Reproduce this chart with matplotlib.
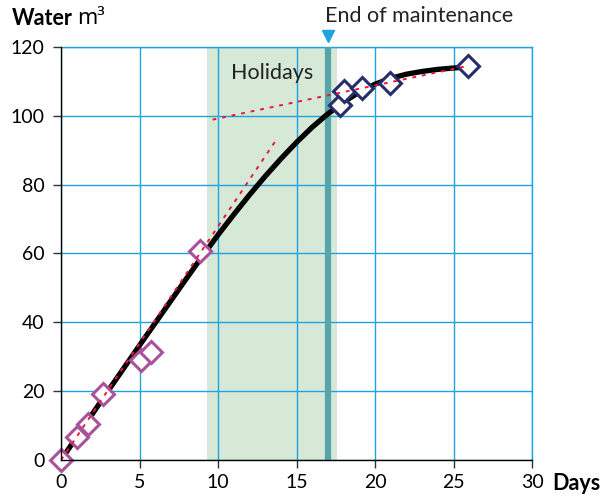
import matplotlib.pyplot as plt

plt.rcParams['font.family'] = ['Lato', 'DejaVu Sans']

# measured points, before maintenance
early_days = [0, 1.0, 1.7, 2.7, 5.1, 5.7, 8.85]
early_water = [0, 6.7, 10.5, 19.2, 29.0, 31.4, 60.8]

# measured points, after maintenance
late_days = [17.8, 18.0, 19.2, 20.95, 25.9]
late_water = [103.2, 107.3, 108.1, 109.6, 114.5]

# smooth model curve
curve_days = [0, 1, 2, 3, 4, 5, 6, 7, 8, 9, 10, 11, 12, 13, 14, 15, 16,
              17, 18, 19, 20, 21, 22, 23, 24, 25, 26]
curve_water = [0, 6.7, 13.4, 20.1, 26.7, 33.3, 39.8, 46.3, 52.8, 59.2,
               65.4, 71.3, 77.0, 82.4, 87.5, 92.3, 96.7, 100.6, 104.0,
               106.9, 109.2, 110.9, 112.1, 112.9, 113.5, 113.9, 114.2]

# dotted trend lines
trend1_days = [0, 13.75]
trend1_water = [0, 93.3]
trend2_days = [9.65, 25.9]
trend2_water = [98.9, 114.5]

holiday_span = (9.27, 17.55)
maintenance_end = 16.98

GRID = '#1fa3e0'

fig = plt.figure(figsize=(6.0, 4.99), dpi=100)
ax = fig.add_axes([0.1017, 0.0782, 0.785, 0.8276])

ax.axvspan(*holiday_span, color='#d6e8d6', zorder=0, lw=0)
ax.set_axisbelow(True)
ax.grid(True, color=GRID, lw=1.0, zorder=1)
ax.axvline(maintenance_end, color='#58a4ad', lw=4.5, zorder=2)

ax.plot(curve_days, curve_water, color='black', lw=3.8, zorder=3,
        solid_capstyle='butt')

ax.plot(early_days, early_water, ls='none', marker='D', ms=11,
        mfc='white', mec='#a9519b', mew=2.2, zorder=4, clip_on=False)
ax.plot(late_days, late_water, ls='none', marker='D', ms=11,
        mfc='white', mec='#252d6a', mew=2.2, zorder=4, clip_on=False)

ax.plot(trend1_days, trend1_water, color='#e8183a', lw=1.4,
        ls=(0, (2, 3)), zorder=5)
ax.plot(trend2_days, trend2_water, color='#e8183a', lw=1.4,
        ls=(0, (2, 3)), zorder=5)

ax.set_xlim(0, 30)
ax.set_ylim(0, 120)
ax.set_xticks(range(0, 31, 5))
ax.set_yticks(range(0, 121, 20))
ax.tick_params(labelsize=14, length=6, width=1, color='#333333')
ax.tick_params(axis='y', pad=6)
ax.tick_params(axis='x', pad=4)

for side in ['top', 'right']:
    ax.spines[side].set_visible(False)
for side in ['left', 'bottom']:
    ax.spines[side].set_color('black')
    ax.spines[side].set_linewidth(1.0)
    ax.spines[side].set_zorder(6)

# top and right edges are just grid lines
ax.axhline(120, color=GRID, lw=1.0, zorder=1, clip_on=False)
ax.axvline(30, color=GRID, lw=1.0, zorder=1, clip_on=False)

ax.text(13.45, 112.5, 'Holidays', fontsize=15.5, ha='center', va='center',
        color='#222222', zorder=6)

ax.plot([maintenance_end], [123.2], marker='v', ms=8, color='#1fa3e0',
        clip_on=False, zorder=6)
ax.text(22.8, 128.9, 'End of maintenance', fontsize=15.5, ha='center',
        va='center', color='#222222')

fig.text(0.02, 0.962, 'Water', fontsize=15.5, fontweight='bold',
         ha='left', va='center')
fig.text(0.128, 0.962, 'm³', fontsize=15.5, ha='left', va='center',
         family=['Noto Sans', 'DejaVu Sans'])
fig.text(0.921, 0.032, 'Days', fontsize=15.5, fontweight='bold',
         ha='left', va='center')

fig.savefig('out.png', dpi=100)
